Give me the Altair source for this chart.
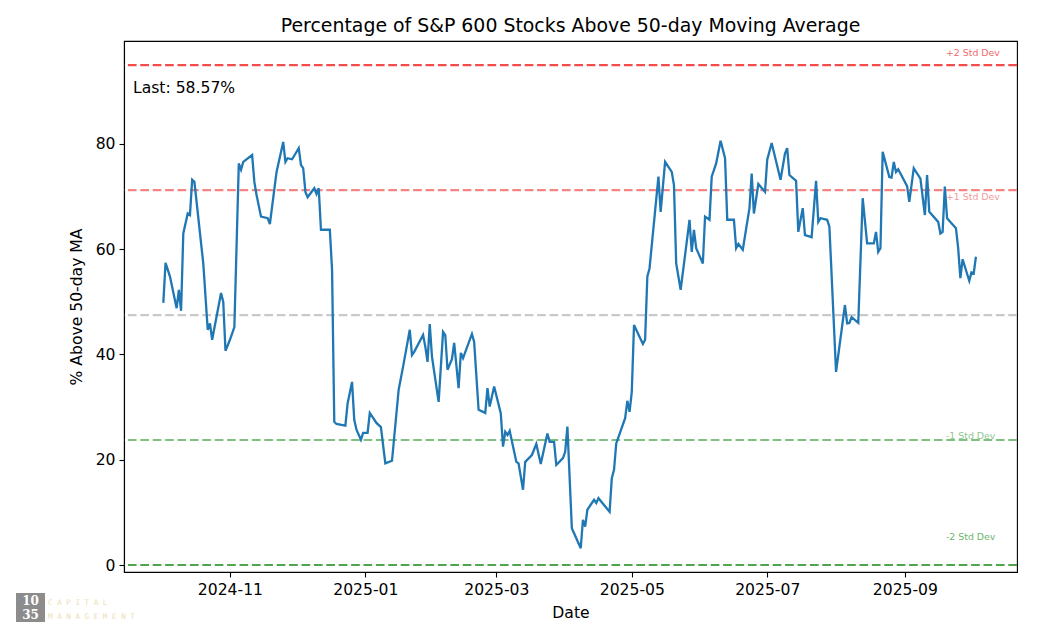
import altair as alt
import pandas as pd

# ---- data ----
dates = [
    "2024-10-02", "2024-10-03", "2024-10-05", "2024-10-08", "2024-10-09", "2024-10-10", "2024-10-11",
    "2024-10-13", "2024-10-14", "2024-10-15", "2024-10-16", "2024-10-20", "2024-10-22", "2024-10-23",
    "2024-10-24", "2024-10-28", "2024-10-29", "2024-10-30", "2024-11-01", "2024-11-03", "2024-11-05",
    "2024-11-06", "2024-11-07", "2024-11-11", "2024-11-12", "2024-11-13", "2024-11-15", "2024-11-18",
    "2024-11-19", "2024-11-22", "2024-11-25", "2024-11-26", "2024-11-27", "2024-11-29", "2024-12-02",
    "2024-12-03", "2024-12-04", "2024-12-05", "2024-12-06", "2024-12-09", "2024-12-10", "2024-12-11",
    "2024-12-12", "2024-12-16", "2024-12-17", "2024-12-18", "2024-12-19", "2024-12-23", "2024-12-24",
    "2024-12-26", "2024-12-27", "2024-12-28", "2024-12-30", "2024-12-31", "2025-01-02", "2025-01-03",
    "2025-01-06", "2025-01-08", "2025-01-10", "2025-01-13", "2025-01-16", "2025-01-18", "2025-01-21",
    "2025-01-22", "2025-01-23", "2025-01-27", "2025-01-28", "2025-01-29", "2025-01-30", "2025-01-31",
    "2025-02-03", "2025-02-05", "2025-02-06", "2025-02-07", "2025-02-09", "2025-02-10", "2025-02-12",
    "2025-02-13", "2025-02-14", "2025-02-18", "2025-02-19", "2025-02-21", "2025-02-24", "2025-02-25",
    "2025-02-26", "2025-02-28", "2025-03-03", "2025-03-04", "2025-03-05", "2025-03-06", "2025-03-07",
    "2025-03-10", "2025-03-11", "2025-03-13", "2025-03-14", "2025-03-17", "2025-03-19", "2025-03-21",
    "2025-03-24", "2025-03-25", "2025-03-27", "2025-03-28", "2025-03-31", "2025-04-01", "2025-04-02",
    "2025-04-04", "2025-04-08", "2025-04-09", "2025-04-10", "2025-04-11", "2025-04-14", "2025-04-15",
    "2025-04-16", "2025-04-21", "2025-04-22", "2025-04-23", "2025-04-24", "2025-04-25", "2025-04-28",
    "2025-04-29", "2025-04-30", "2025-05-01", "2025-05-02", "2025-05-06", "2025-05-07", "2025-05-08",
    "2025-05-09", "2025-05-13", "2025-05-14", "2025-05-16", "2025-05-19", "2025-05-20", "2025-05-21",
    "2025-05-23", "2025-05-25", "2025-05-27", "2025-05-28", "2025-05-29", "2025-05-30", "2025-06-02",
    "2025-06-03", "2025-06-05", "2025-06-06", "2025-06-08", "2025-06-10", "2025-06-12", "2025-06-13",
    "2025-06-16", "2025-06-17", "2025-06-18", "2025-06-20", "2025-06-23", "2025-06-24", "2025-06-25",
    "2025-06-27", "2025-06-30", "2025-07-01", "2025-07-03", "2025-07-07", "2025-07-09", "2025-07-10",
    "2025-07-11", "2025-07-14", "2025-07-15", "2025-07-17", "2025-07-18", "2025-07-21", "2025-07-23",
    "2025-07-24", "2025-07-25", "2025-07-28", "2025-07-29", "2025-08-01", "2025-08-05", "2025-08-06",
    "2025-08-07", "2025-08-08", "2025-08-11", "2025-08-13", "2025-08-15", "2025-08-18", "2025-08-19",
    "2025-08-20", "2025-08-21", "2025-08-22", "2025-08-25", "2025-08-26", "2025-08-27", "2025-08-28",
    "2025-08-29", "2025-09-02", "2025-09-03", "2025-09-05", "2025-09-08", "2025-09-10", "2025-09-11",
    "2025-09-12", "2025-09-16", "2025-09-17", "2025-09-18", "2025-09-19", "2025-09-20", "2025-09-24",
    "2025-09-25", "2025-09-26", "2025-09-27", "2025-09-30", "2025-10-01", "2025-10-02", "2025-10-03",
]
pct_above = [
    49.8, 57.4, 54.8, 48.8, 52.3, 48.3, 63.0,
    66.8, 66.5, 73.2, 72.8, 57.3, 44.7, 45.9,
    42.8, 51.7, 50.0, 40.7, 42.8, 45.2, 76.3,
    75.1, 76.6, 77.9, 72.8, 70.3, 66.2, 65.9,
    64.8, 74.7, 80.4, 76.6, 77.3, 77.1, 79.2,
    76.0, 75.4, 70.9, 69.9, 71.6, 70.5, 71.6,
    63.7, 63.7, 56.1, 27.2, 26.8, 26.5, 30.7,
    34.8, 27.6, 25.7, 23.8, 25.1, 25.1, 28.9,
    27.0, 26.2, 19.3, 19.8, 33.3, 37.7, 44.7,
    39.9, 40.5, 43.7, 41.5, 38.6, 45.8, 39.6,
    31.0, 44.3, 43.7, 37.1, 39.1, 42.2, 33.6,
    40.3, 39.3, 43.9, 42.4, 29.5, 28.9, 33.6,
    30.1, 33.9, 28.8, 22.5, 25.3, 24.7, 25.5,
    19.6, 19.3, 14.3, 19.6, 20.9, 23.0, 19.2,
    25.0, 23.4, 23.4, 19.0, 20.3, 21.5, 26.3,
    7.0, 3.2, 8.6, 7.3, 10.5, 12.4, 11.8,
    12.7, 10.1, 16.5, 18.1, 23.1, 24.3, 27.9,
    31.2, 29.1, 32.9, 45.6, 42.0, 42.8, 54.8,
    56.4, 73.8, 67.1, 76.6, 74.7, 72.2, 57.3,
    52.3, 58.9, 65.6, 59.5, 63.7, 60.2, 57.3,
    66.2, 65.6, 73.8, 76.3, 80.6, 77.3, 65.6,
    65.6, 60.2, 61.0, 59.9, 67.8, 74.4, 66.8,
    72.4, 70.9, 77.0, 80.2, 73.2, 78.2, 79.2,
    74.1, 73.0, 63.3, 67.8, 62.7, 62.3, 73.0,
    65.2, 65.9, 65.6, 64.3, 36.7, 49.4, 45.9,
    46.0, 47.1, 46.0, 69.7, 61.1, 61.1, 63.3,
    59.5, 60.2, 78.5, 73.7, 73.6, 76.6, 74.7,
    75.2, 72.0, 69.0, 75.4, 73.4, 66.5, 74.1,
    67.1, 65.2, 63.0, 63.3, 71.9, 65.9, 64.0,
    60.2, 54.5, 58.1, 54.0, 55.6, 55.4, 58.57,
]

std_levels = [95.0, 71.25, 47.5, 23.75, 0.0]
std_colors = ["#f24c4c", "#f58585", "#c9c9c9", "#80c080", "#4da64d"]

label_texts = ["+2 Std Dev", "+1 Std Dev", "-1 Std Dev", "-2 Std Dev"]
label_levels = [97.3, 69.9, 24.5, 5.3]
label_colors = ["#f06a6a", "#f29a9a", "#8fc88f", "#6ab56a"]
label_date = "2025-09-19T12:00:00Z"

x_ticks = ["2024-11", "2025-01", "2025-03", "2025-05", "2025-07", "2025-09"]

title_text = "Percentage of S&P 600 Stocks Above 50-day Moving Average"
font = "DejaVu Sans"

# ---- tables ----
df = pd.DataFrame({"date": dates, "pct": pct_above})
std_df = pd.DataFrame({"level": std_levels, "color": std_colors})
lab_df = pd.DataFrame({"date": [label_date] * len(label_texts), "level": label_levels,
                       "text": label_texts, "color": label_colors})
one = pd.DataFrame({"a": [0]})

x_scale = alt.Scale(
    type="utc",
    domain=[alt.DateTime(year=2024, month=9, date=14, hours=7, utc=True),
            alt.DateTime(year=2025, month=10, date=21, hours=12, utc=True)],
    nice=False,
)
y_scale = alt.Scale(domain=[-1.33, 99.57], nice=False, zero=False)

tick_vals = [alt.DateTime(year=int(t[:4]), month=int(t[5:]), date=1, utc=True) for t in x_ticks]

x_axis = alt.Axis(title="Date", values=tick_vals, format="%Y-%m", grid=False,
                  labelFontSize=15.6, titleFontSize=15.6, labelPadding=5, titlePadding=8,
                  tickSize=5, labelFlush=False)
y_axis = alt.Axis(title="% Above 50-day MA", values=[0, 20, 40, 60, 80], grid=False,
                  labelFontSize=15.6, titleFontSize=15.6, labelPadding=4, titlePadding=11,
                  tickSize=5)


def X(field):
    return alt.X(field, type="temporal", scale=x_scale, axis=x_axis)


def Y(field):
    return alt.Y(field, type="quantitative", scale=y_scale, axis=y_axis)


rules = alt.Chart(std_df).mark_rule(strokeDash=[8.7, 3.7], strokeWidth=2.2).encode(
    y=Y("level"), color=alt.Color("color:N", scale=None)
)

line = alt.Chart(df).mark_line(color="#1f77b4", strokeWidth=2.3).encode(
    x=X("date"), y=Y("pct")
)

labels = alt.Chart(lab_df).mark_text(align="left", baseline="middle", fontSize=9.4, font=font).encode(
    x=X("date"), y=Y("level"), text="text:N", color=alt.Color("color:N", scale=None)
)

last_txt = alt.Chart(one).mark_text(align="left", baseline="middle", fontSize=15.6, font=font,
                                    color="black").encode(
    x=alt.value(9), y=alt.value(47), text=alt.value(f"Last: {pct_above[-1]:.2f}%")
)

# watermark logo
logo_box = alt.Chart(one).mark_rect(color="#8c8c8c").encode(
    x=alt.value(-108), x2=alt.value(-79), y=alt.value(552), y2=alt.value(581)
)
logo_10 = alt.Chart(one).mark_text(font="DejaVu Serif", fontWeight="bold", fontSize=12,
                                   color="white", baseline="middle").encode(
    x=alt.value(-93.5), y=alt.value(559.5), text=alt.value("10")
)
logo_35 = alt.Chart(one).mark_text(font="DejaVu Serif", fontWeight="bold", fontSize=12,
                                   color="white", baseline="middle").encode(
    x=alt.value(-93.5), y=alt.value(573.5), text=alt.value("35")
)
logo_cap = alt.Chart(one).mark_text(font="DejaVu Sans Mono", fontSize=7.6, color="#ece0b4",
                                    align="left", baseline="middle").encode(
    x=alt.value(-76), y=alt.value(562), text=alt.value("C A P I T A L")
)
logo_mgmt = alt.Chart(one).mark_text(font="DejaVu Sans Mono", fontSize=7.6, color="#ece0b4",
                                     align="left", baseline="middle").encode(
    x=alt.value(-76), y=alt.value(576), text=alt.value("M A N A G E M E N T")
)

chart = alt.layer(
    rules, line, labels, last_txt, logo_box, logo_10, logo_35, logo_cap, logo_mgmt
).properties(
    width=893,
    height=531,
    padding={"left": 116, "top": 33, "right": 10, "bottom": 52},
    autosize=alt.AutoSizeParams(type="none"),
    title=alt.TitleParams(title_text, fontSize=18.9, fontWeight="normal", font=font,
                          color="black", anchor="middle", offset=5),
).configure(
    font=font,
    background="white",
).configure_view(
    stroke="black", strokeWidth=1.1
).configure_axis(
    labelFont=font, titleFont=font, labelColor="black", titleColor="black",
    titleFontWeight="normal", domainColor="black", tickColor="black",
    domainWidth=1.1, tickWidth=1.1,
)

chart.save("out.html", embed_options={"renderer": "svg", "actions": False})
